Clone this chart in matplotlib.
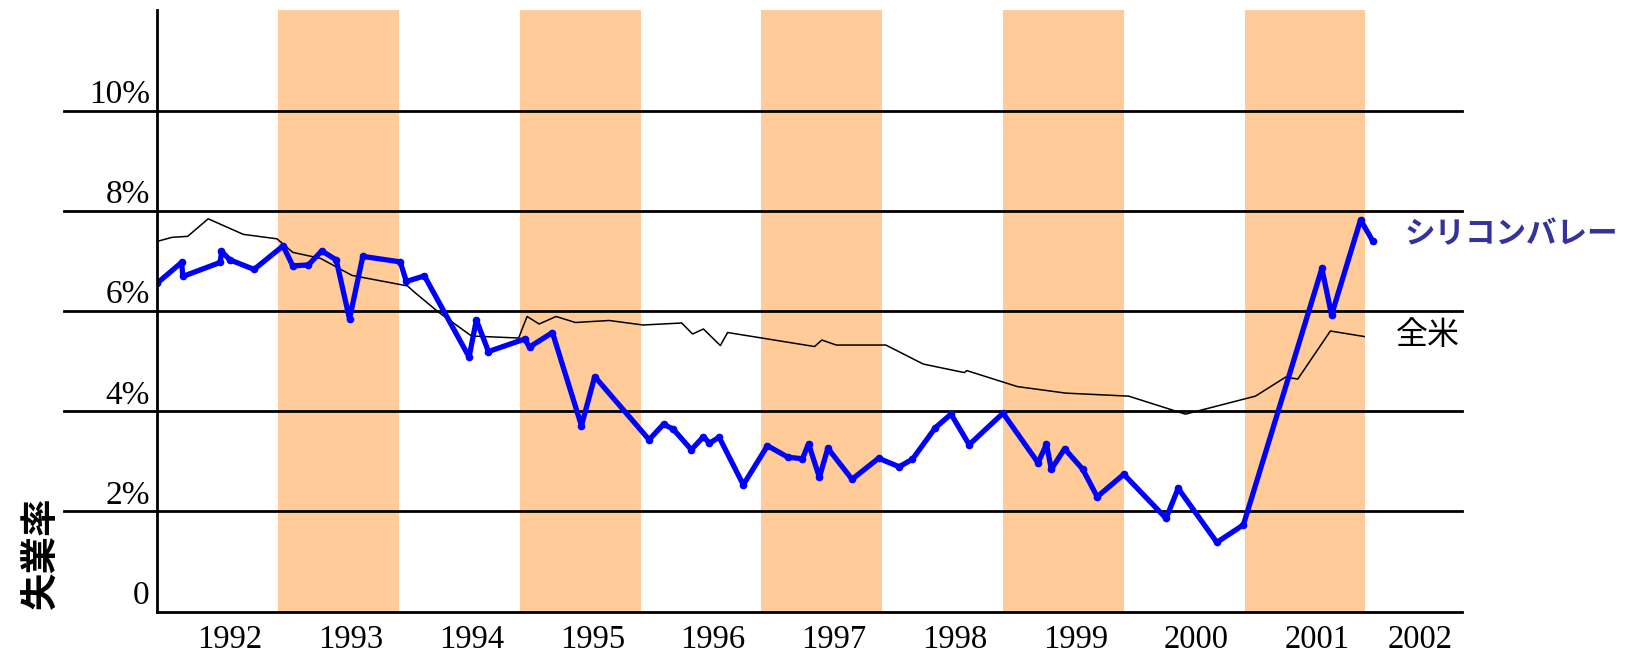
"""Silicon Valley vs US unemployment rate, 1992-2002."""

import matplotlib.pyplot as plt
import matplotlib.transforms as mtransforms
import numpy as np

# decimal-year positions and unemployment (%)
sv_x = [1992.00, 1992.20, 1992.21, 1992.52, 1992.53, 1992.60, 1992.80, 1993.04,
        1993.12, 1993.25, 1993.36, 1993.48, 1993.59, 1993.70, 1994.01, 1994.06,
        1994.21, 1994.58, 1994.64, 1994.74, 1995.04, 1995.08, 1995.27, 1995.51,
        1995.62, 1996.07, 1996.19, 1996.27, 1996.42, 1996.52, 1996.57, 1996.65,
        1996.85, 1997.05, 1997.22, 1997.34, 1997.39, 1997.48, 1997.55, 1997.75,
        1997.97, 1998.14, 1998.25, 1998.44, 1998.57, 1998.72, 1999.00, 1999.29,
        1999.36, 1999.40, 1999.51, 1999.66, 1999.78, 2000.00, 2000.35, 2000.45,
        2000.77, 2000.99, 2001.64, 2001.72, 2001.96, 2002.06]
sv_rate = [6.56, 6.97, 6.69, 6.97, 7.19, 7.02, 6.83, 7.30,
           6.90, 6.92, 7.20, 7.02, 5.84, 7.09, 6.98, 6.59,
           6.70, 5.08, 5.82, 5.19, 5.44, 5.28, 5.57, 3.71,
           4.69, 3.43, 3.74, 3.64, 3.23, 3.49, 3.36, 3.48,
           2.53, 3.31, 3.08, 3.05, 3.35, 2.68, 3.26, 2.64,
           3.06, 2.89, 3.04, 3.67, 3.94, 3.33, 3.96, 2.97,
           3.34, 2.84, 3.25, 2.84, 2.29, 2.74, 1.86, 2.46,
           1.38, 1.73, 6.85, 5.92, 7.82, 7.40]

us_x = [1992.00, 1992.12, 1992.25, 1992.42, 1992.71, 1992.99, 1993.12, 1993.35,
        1993.61, 1994.07, 1994.13, 1994.33, 1994.60, 1994.99, 1995.06, 1995.16,
        1995.30, 1995.46, 1995.74, 1996.02, 1996.34, 1996.43, 1996.52, 1996.66,
        1996.72, 1997.44, 1997.50, 1997.62, 1998.03, 1998.34, 1998.68, 1998.70,
        1999.12, 1999.52, 2000.04, 2000.51, 2001.09, 2001.34, 2001.44, 2001.71,
        2001.99]
us_rate = [7.39, 7.47, 7.49, 7.84, 7.53, 7.44, 7.17, 7.05,
           6.71, 6.50, 6.37, 5.97, 5.50, 5.46, 5.89, 5.74,
           5.89, 5.77, 5.81, 5.72, 5.76, 5.54, 5.64, 5.31,
           5.57, 5.29, 5.42, 5.32, 5.32, 4.94, 4.77, 4.81,
           4.49, 4.36, 4.30, 3.94, 4.30, 4.68, 4.64, 5.60,
           5.49]

years = [1992, 1993, 1994, 1995, 1996, 1997, 1998, 1999, 2000, 2001, 2002]
shaded_years = [1993, 1995, 1997, 1999, 2001]
y_levels = [0, 2, 4, 6, 8, 10]
y_labels = ["0", "2%", "4%", "6%", "8%", "10%"]

SERIF = "Liberation Serif"
CJK = ["Noto Sans CJK JP", "DejaVu Sans"]

fig = plt.figure(figsize=(16.25, 6.56), dpi=100)
ax = fig.add_axes([0.0969, 0.0678, 0.8028, 0.9163])
ax.set_xlim(1992, 2002.80)
ax.set_ylim(0, 12)

for yr in shaded_years:
    ax.axvspan(yr, yr + 1, color="#FFCC99", lw=0, zorder=0)

# horizontal rules reach out under the y labels
for lv in y_levels[1:]:
    ax.axhline(lv, xmin=-0.072, xmax=1, color="black", lw=2.0, clip_on=False, zorder=1)

lab_tf = mtransforms.blended_transform_factory(ax.transAxes, ax.transData)
for lv, lab in zip(y_levels, y_labels):
    ax.text(-0.006, lv + 0.15, lab, transform=lab_tf, ha="right", va="baseline",
            fontsize=24, family=SERIF)

ax.plot(us_x, us_rate, color="black", lw=1.1, zorder=3)
ax.plot(sv_x, sv_rate, color="#0000FF", lw=3.8, marker="o", ms=4.5,
        solid_joinstyle="round", solid_capstyle="round", zorder=4)

ax.text(2002.32, 7.54, "シリコンバレー", color="#333399", fontsize=22,
        fontweight="bold", family=CJK, ha="left", va="center", clip_on=False)
ax.text(2002.25, 5.52, "全米", color="black", fontsize=23,
        family=CJK, ha="left", va="center", clip_on=False)

tick_pos = np.array(years, dtype=float) + 0.60
tick_pos[-1] = years[-1] + 0.45
ax.set_xticks(tick_pos, labels=[str(y) for y in years])
ax.tick_params(axis="x", length=0, pad=9, labelsize=23.5)
for t in ax.get_xticklabels():
    t.set_family(SERIF)
ax.set_yticks([])

for side in ("top", "right"):
    ax.spines[side].set_visible(False)
for side in ("left", "bottom"):
    ax.spines[side].set_linewidth(2.0)
    ax.spines[side].set_zorder(5)

fig.text(0.0255, 0.157, "失業率", rotation=90, fontsize=27, fontweight="bold",
         family=CJK, ha="center", va="center")

fig.savefig("out.png", dpi=100)
plt.close(fig)
